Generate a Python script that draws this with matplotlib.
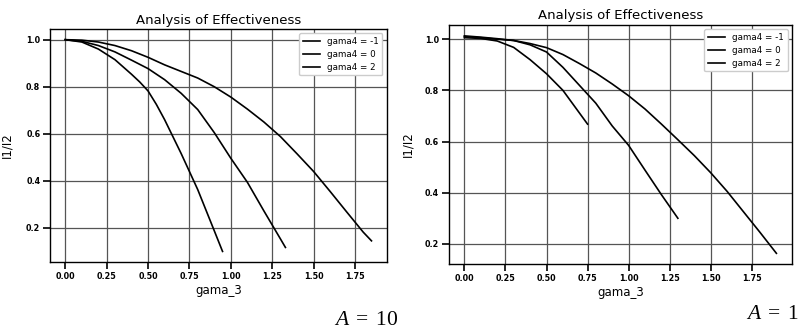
import matplotlib
matplotlib.use("Agg")
import matplotlib.pyplot as plt

# ---- data: left panel (A = 10) ----
x10_m1 = [0.0, 0.1, 0.2, 0.3, 0.4, 0.5, 0.6, 0.7, 0.8, 0.9, 1.0, 1.1, 1.2,
          1.3, 1.4, 1.5, 1.6, 1.7, 1.8, 1.85]
y10_m1 = [1.0, 0.998, 0.99, 0.975, 0.953, 0.925, 0.893, 0.865, 0.837, 0.80,
          0.756, 0.705, 0.65, 0.588, 0.515, 0.44, 0.355, 0.268, 0.182, 0.145]
x10_0 = [0.0, 0.1, 0.2, 0.3, 0.4, 0.5, 0.6, 0.7, 0.8, 0.9, 1.0, 1.1, 1.2,
         1.3, 1.33]
y10_0 = [1.0, 0.993, 0.975, 0.948, 0.913, 0.877, 0.83, 0.772, 0.703, 0.605,
         0.496, 0.394, 0.272, 0.153, 0.117]
x10_2 = [0.0, 0.1, 0.2, 0.3, 0.4, 0.45, 0.5, 0.55, 0.6, 0.7, 0.8, 0.9, 0.95]
y10_2 = [1.0, 0.99, 0.96, 0.915, 0.853, 0.82, 0.782, 0.725, 0.66, 0.516,
         0.363, 0.188, 0.10]

# ---- data: right panel (A = 1) ----
x1_m1 = [0.0, 0.1, 0.2, 0.3, 0.4, 0.5, 0.6, 0.7, 0.8, 0.9, 1.0, 1.1, 1.2,
         1.3, 1.4, 1.5, 1.6, 1.7, 1.8, 1.9]
y1_m1 = [1.013, 1.008, 1.002, 0.995, 0.983, 0.967, 0.94, 0.905, 0.868, 0.825,
         0.779, 0.727, 0.668, 0.607, 0.545, 0.478, 0.405, 0.325, 0.245, 0.163]
x1_0 = [0.0, 0.1, 0.2, 0.3, 0.4, 0.5, 0.6, 0.7, 0.8, 0.9, 1.0, 1.1, 1.2, 1.3]
y1_0 = [1.01, 1.006, 1.0, 0.995, 0.978, 0.95, 0.89, 0.82, 0.75, 0.661, 0.585,
        0.488, 0.392, 0.30]
x1_2 = [0.0, 0.1, 0.2, 0.3, 0.4, 0.5, 0.6, 0.7, 0.75]
y1_2 = [1.006, 1.003, 0.993, 0.968, 0.92, 0.865, 0.80, 0.712, 0.668]

labels = ["gama4 = -1", "gama4 = 0", "gama4 = 2"]
xticks = [0.0, 0.25, 0.5, 0.75, 1.0, 1.25, 1.5, 1.75]
yticks = [0.2, 0.4, 0.6, 0.8, 1.0]
captions = [r"$A\;=\;10$", r"$A\;=\;1$"]

plt.rcParams['mathtext.fontset'] = 'custom'
plt.rcParams['mathtext.rm'] = 'Liberation Serif'
plt.rcParams['mathtext.it'] = 'Liberation Serif:italic'

fig = plt.figure(figsize=(8, 3.29), dpi=100)
ax1 = fig.add_axes([0.0625, 0.2036, 0.421, 0.708])
ax2 = fig.add_axes([0.561, 0.197, 0.429, 0.727])

panels = [
    (ax1, [(x10_m1, y10_m1), (x10_0, y10_0), (x10_2, y10_2)], -0.108),
    (ax2, [(x1_m1, y1_m1), (x1_0, y1_0), (x1_2, y1_2)], -0.100),
]

for ax, series, ylx in panels:
    for (xs, ys), lab in zip(series, labels):
        ax.plot(xs, ys, color='black', lw=1.2, label=lab)
    ax.set_xticks(xticks)
    ax.set_xticklabels([f"{v:.2f}" for v in xticks])
    ax.set_yticks(yticks)
    ax.set_yticklabels([f"{v:.1f}" for v in yticks])
    ax.grid(True, color='#555555', lw=0.9)
    ax.set_axisbelow(True)
    ax.tick_params(axis='both', length=5, width=1.2, pad=2, labelsize=5.8)
    for lbl in ax.get_xticklabels() + ax.get_yticklabels():
        lbl.set_fontweight('bold')
    for sp in ax.spines.values():
        sp.set_linewidth(1.0)
    ax.set_title("Analysis of Effectiveness", fontsize=9.5, pad=4)
    ax.set_xlabel("gama_3", fontsize=8.5, labelpad=2)
    ax.set_ylabel("I1/I2", fontsize=8.5)
    ax.yaxis.set_label_coords(ylx, 0.5)
    leg = ax.legend(loc='upper right', fontsize=6.3, framealpha=1.0,
                    handlelength=2.0, labelspacing=0.45, borderpad=0.4)
    leg.get_frame().set_edgecolor('#cccccc')

fig.text(0.4975, 0.03, captions[0], ha='right', va='center', fontsize=15.5)
fig.text(0.998, 0.05, captions[1], ha='right', va='center', fontsize=15.5)

fig.savefig("out.png", dpi=100)
